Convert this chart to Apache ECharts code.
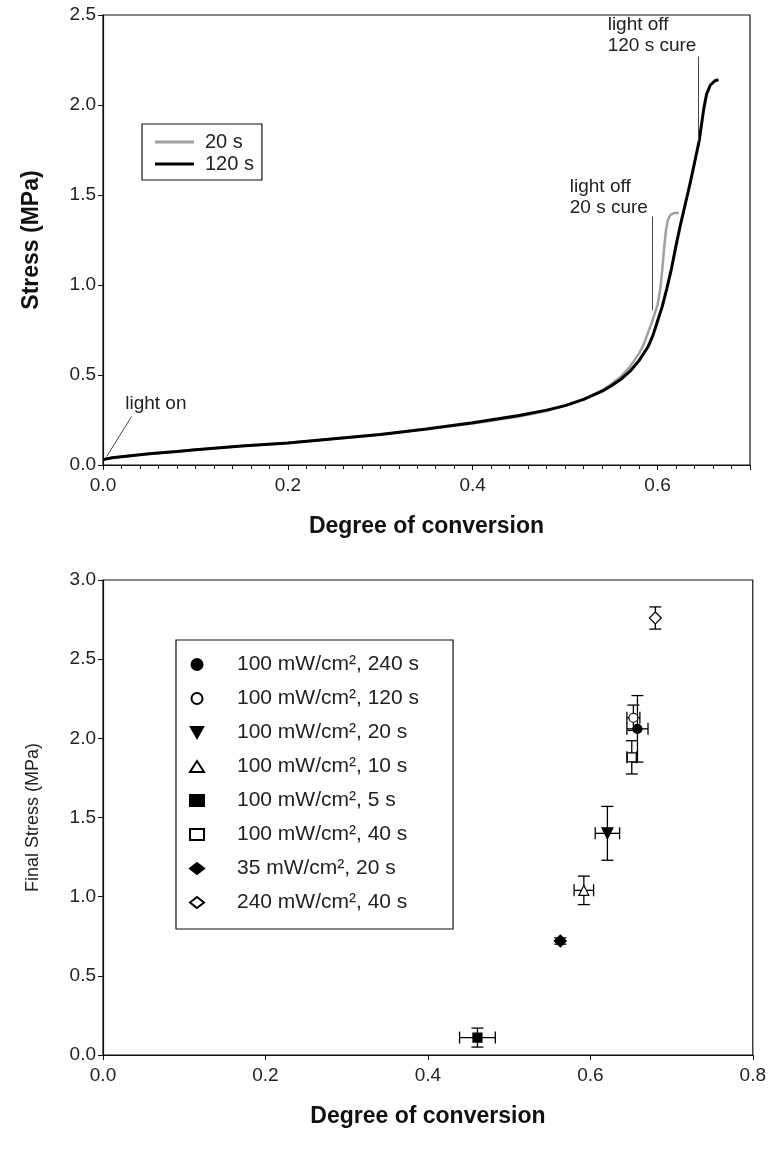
<!DOCTYPE html>
<html>
<head>
<meta charset="utf-8">
<script src="https://cdn.jsdelivr.net/npm/echarts@6/dist/echarts.min.js"></script>
<style>
  html, body { margin: 0; padding: 0; background: #fff; }
  #main { width: 769px; height: 1171px; }
</style>
</head>
<body>
<div id="main"></div>
<script>
// top panel: stress vs conversion during cure
const conv120 = [0, 0.01, 0.03, 0.05, 0.08, 0.10, 0.15, 0.20, 0.25, 0.30, 0.35, 0.40, 0.45, 0.48, 0.50, 0.52, 0.54, 0.55, 0.56, 0.57, 0.58, 0.59, 0.595, 0.60, 0.605, 0.61, 0.615, 0.62, 0.625, 0.63, 0.635, 0.64, 0.645, 0.65, 0.653, 0.657, 0.662, 0.666];
const stress120 = [0.03, 0.04, 0.052, 0.062, 0.075, 0.085, 0.105, 0.122, 0.146, 0.17, 0.2, 0.235, 0.275, 0.305, 0.33, 0.365, 0.41, 0.44, 0.475, 0.52, 0.58, 0.66, 0.72, 0.8, 0.88, 0.98, 1.09, 1.22, 1.34, 1.45, 1.56, 1.68, 1.8, 1.98, 2.06, 2.11, 2.135, 2.14];
const conv20 = [0, 0.01, 0.03, 0.05, 0.08, 0.10, 0.15, 0.20, 0.25, 0.30, 0.35, 0.40, 0.45, 0.48, 0.50, 0.52, 0.54, 0.55, 0.56, 0.57, 0.58, 0.585, 0.59, 0.595, 0.60, 0.603, 0.605, 0.607, 0.609, 0.611, 0.614, 0.618, 0.623];
const stress20 = [0.03, 0.04, 0.052, 0.062, 0.075, 0.085, 0.105, 0.122, 0.146, 0.17, 0.2, 0.23, 0.27, 0.3, 0.33, 0.365, 0.415, 0.45, 0.49, 0.545, 0.62, 0.67, 0.74, 0.81, 0.89, 0.98, 1.08, 1.2, 1.3, 1.36, 1.39, 1.40, 1.40];

// bottom panel: final stress per cure condition
const groups = ['100 mW/cm², 240 s', '100 mW/cm², 120 s', '100 mW/cm², 20 s', '100 mW/cm², 10 s',
  '100 mW/cm², 5 s', '100 mW/cm², 40 s', '35 mW/cm², 20 s', '240 mW/cm², 40 s'];
const finalConv = [0.658, 0.653, 0.621, 0.592, 0.461, 0.651, 0.563, 0.68];
const finalStress = [2.06, 2.13, 1.40, 1.04, 0.11, 1.88, 0.72, 2.76];
const convErr = [0.013, 0.008, 0.015, 0.012, 0.022, 0.006, 0, 0];
const stressErr = [0.21, 0.08, 0.17, 0.09, 0.06, 0.105, 0.02, 0.07];

const downTri = 'path://M0,0 L10,0 L5,9 Z';
const symbols = ['circle', 'circle', downTri, 'triangle', 'rect', 'rect', 'diamond', 'diamond'];
const filled = [true, false, true, false, true, false, true, false];
const sizes = [9, 9, 11, 10, 9, 9, 12, 12];

const fontFam = 'Liberation Sans, Arial, sans-serif';
const tickFont = { color: '#222', fontSize: 19, fontFamily: fontFam };
const titleFont = { color: '#111', fontSize: 23, fontWeight: 'bold', fontFamily: fontFam };
const axisBase = {
  axisLine: { show: true, onZero: false, lineStyle: { color: '#111', width: 1.2 } },
  axisTick: { show: true, inside: false, length: 5, lineStyle: { color: '#111' } },
  splitLine: { show: false },
  axisLabel: Object.assign({ margin: 7 }, tickFont)
};

function pairs(xs, ys) {
  return xs.map((x, i) => [x, ys[i]]);
}

const annotLine = { color: '#444', width: 1, type: 'solid' };
const noteLabel = (text) => ({
  show: true, formatter: text, position: [0, 0], align: 'left', verticalAlign: 'bottom',
  color: '#222', fontSize: 19, lineHeight: 21, fontFamily: fontFam
});

const scatterSeries = groups.map((name, i) => ({
  name: name,
  type: 'scatter',
  xAxisIndex: 1,
  yAxisIndex: 1,
  symbol: symbols[i],
  symbolSize: sizes[i],
  z: 5,
  itemStyle: {
    color: filled[i] ? '#000' : '#fff',
    borderColor: '#000',
    borderWidth: 1.2,
    opacity: 1
  },
  data: [[finalConv[i], finalStress[i]]]
}));

const errData = groups.map((n, i) => [finalConv[i], finalStress[i], convErr[i], stressErr[i]]);

function renderErr(params, api) {
  const x = api.value(0), y = api.value(1), ex = api.value(2), ey = api.value(3);
  const cap = 6;
  const shapes = [];
  const style = { stroke: '#000', lineWidth: 1.3 };
  if (ey > 0) {
    const top = api.coord([x, y + ey]);
    const bot = api.coord([x, y - ey]);
    shapes.push({ type: 'line', shape: { x1: top[0], y1: top[1], x2: bot[0], y2: bot[1] }, style: style });
    shapes.push({ type: 'line', shape: { x1: top[0] - cap, y1: top[1], x2: top[0] + cap, y2: top[1] }, style: style });
    shapes.push({ type: 'line', shape: { x1: bot[0] - cap, y1: bot[1], x2: bot[0] + cap, y2: bot[1] }, style: style });
  }
  if (ex > 0) {
    const l = api.coord([x - ex, y]);
    const r = api.coord([x + ex, y]);
    shapes.push({ type: 'line', shape: { x1: l[0], y1: l[1], x2: r[0], y2: r[1] }, style: style });
    shapes.push({ type: 'line', shape: { x1: l[0], y1: l[1] - cap, x2: l[0], y2: l[1] + cap }, style: style });
    shapes.push({ type: 'line', shape: { x1: r[0], y1: r[1] - cap, x2: r[0], y2: r[1] + cap }, style: style });
  }
  return { type: 'group', children: shapes };
}

const chart = echarts.init(document.getElementById('main'), null, { renderer: 'canvas' });

const option = {
  backgroundColor: '#fff',
  animation: false,
  grid: [
    { left: 103, top: 15, width: 647, height: 450, show: true, borderColor: '#111', borderWidth: 1.2, backgroundColor: 'transparent' },
    { left: 103, top: 580, width: 654, height: 475, show: true, borderColor: '#111', borderWidth: 1.2, backgroundColor: 'transparent' }
  ],
  legend: [
    {
      data: [{ name: '20 s' }, { name: '120 s' }],
      orient: 'vertical',
      left: 142, top: 124,
      padding: [8, 8, 6, 13],
      itemGap: 2,
      itemWidth: 39, itemHeight: 3,
      icon: 'rect',
      borderColor: '#111', borderWidth: 1.2,
      textStyle: { fontSize: 20, color: '#222', padding: [0, 0, 0, 6], fontFamily: fontFam }
    },
    {
      data: groups,
      orient: 'vertical',
      left: 176, top: 640,
      padding: [14, 34, 16, 13],
      itemGap: 13,
      itemWidth: 14, itemHeight: 11,
      borderColor: '#111', borderWidth: 1.2,
      textStyle: { fontSize: 21, color: '#222', padding: [0, 0, 0, 28], fontFamily: fontFam }
    }
  ],
  xAxis: [
    Object.assign({}, axisBase, {
      gridIndex: 0, type: 'value', min: 0, max: 0.7, interval: 0.2,
      minorTick: { show: true, splitNumber: 10, length: 4, lineStyle: { color: '#111' } },
      axisLabel: Object.assign({}, axisBase.axisLabel, {
        margin: 11,
        formatter: (v) => (v > 0.65 ? '' : v.toFixed(1))
      }),
      name: 'Degree of conversion', nameLocation: 'middle', nameGap: 50, nameTextStyle: titleFont
    }),
    Object.assign({}, axisBase, {
      gridIndex: 1, type: 'value', min: 0, max: 0.8, interval: 0.2,
      axisLabel: Object.assign({}, axisBase.axisLabel, { margin: 11, formatter: (v) => v.toFixed(1) }),
      name: 'Degree of conversion', nameLocation: 'middle', nameGap: 50, nameTextStyle: titleFont
    })
  ],
  yAxis: [
    Object.assign({}, axisBase, {
      gridIndex: 0, type: 'value', min: 0, max: 2.5, interval: 0.5,
      axisLabel: Object.assign({}, axisBase.axisLabel, { formatter: (v) => v.toFixed(1) }),
      name: 'Stress (MPa)', nameLocation: 'middle', nameGap: 60, nameRotate: 90, nameTextStyle: titleFont
    }),
    Object.assign({}, axisBase, {
      gridIndex: 1, type: 'value', min: 0, max: 3, interval: 0.5,
      axisLabel: Object.assign({}, axisBase.axisLabel, { formatter: (v) => v.toFixed(1) }),
      name: 'Final Stress (MPa)', nameLocation: 'middle', nameGap: 61, nameRotate: 90,
      nameTextStyle: { color: '#222', fontSize: 18, fontFamily: fontFam }
    })
  ],
  series: [
    {
      name: '20 s', type: 'line', xAxisIndex: 0, yAxisIndex: 0,
      showSymbol: false, smooth: false, z: 3,
      lineStyle: { color: '#a0a0a0', width: 2.5 },
      itemStyle: { color: '#a0a0a0' },
      data: pairs(conv20, stress20)
    },
    {
      name: '120 s', type: 'line', xAxisIndex: 0, yAxisIndex: 0,
      showSymbol: false, smooth: false, z: 4,
      lineStyle: { color: '#000', width: 3 },
      itemStyle: { color: '#000' },
      data: pairs(conv120, stress120),
      markLine: {
        silent: true, symbol: ['none', 'none'], animation: false,
        lineStyle: annotLine, label: { show: false },
        emphasis: { disabled: true },
        data: [
          [{ coord: [0.004, 0.047] }, { coord: [0.031, 0.27] }],
          [{ coord: [0.594, 1.38] }, { coord: [0.594, 0.86] }],
          [{ coord: [0.644, 2.27] }, { coord: [0.644, 1.80] }]
        ]
      },
      markPoint: {
        silent: true, symbol: 'circle', symbolSize: 0, animation: false,
        data: [
          { coord: [0.024, 0.28], label: noteLabel('light on') },
          { coord: [0.505, 1.37], label: noteLabel('light off\n20 s cure') },
          { coord: [0.546, 2.27], label: noteLabel('light off\n120 s cure') }
        ]
      }
    },
    {
      name: 'errors', type: 'custom', xAxisIndex: 1, yAxisIndex: 1, z: 4,
      renderItem: renderErr, data: errData, silent: true
    }
  ].concat(scatterSeries)
};

chart.setOption(option);
</script>
</body>
</html>
